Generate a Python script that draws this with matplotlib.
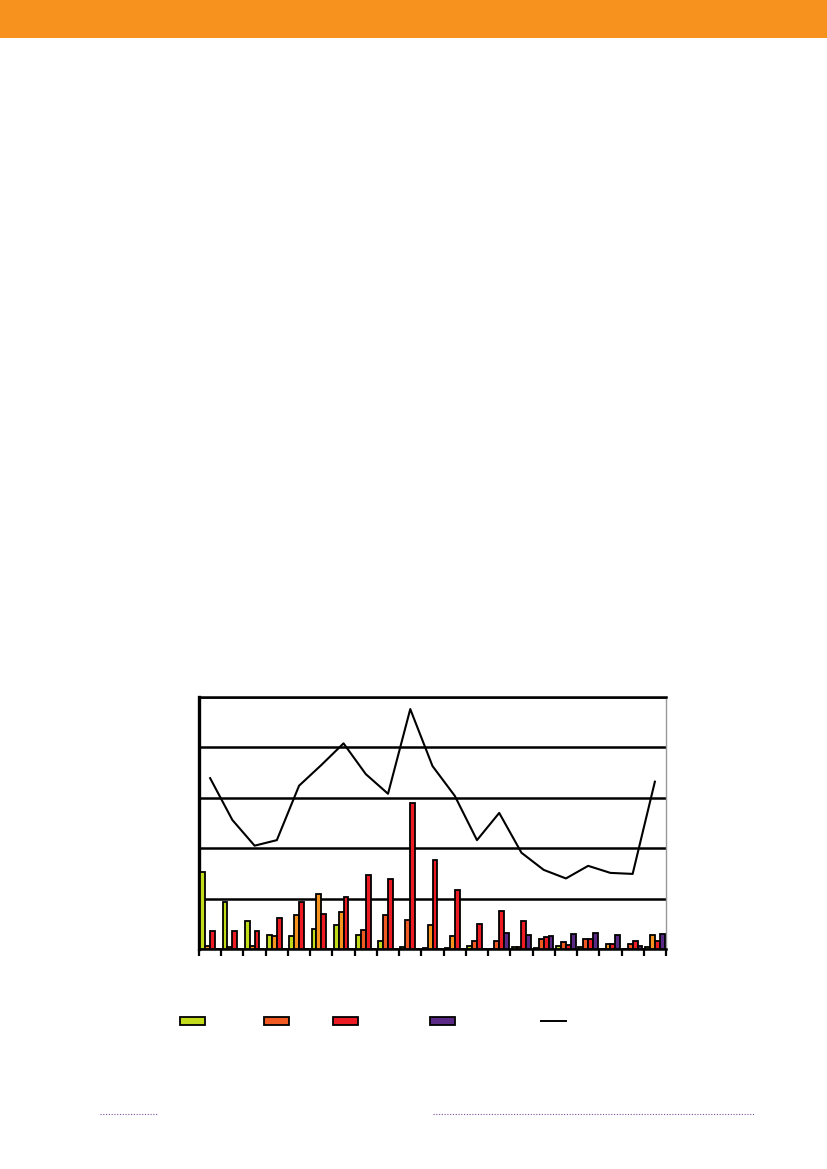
import numpy as np
import matplotlib.pyplot as plt
from matplotlib.patches import Rectangle
from matplotlib.lines import Line2D

# values (one unit = one tenth of a gridline step)
categories = list(range(1, 22))
green_vals = [15.3, 9.4, 5.6, 2.8, 2.6, 4.0, 4.8, 2.8, 1.5, 0.3, 0.2,
              0.2, 0.5, 0.0, 0.3, 0.1, 0.5, 0.4, 0.0, 0.0, 0.3]
orange_vals = [0.6, 0.3, 0.6, 2.5, 6.7, 11.0, 7.4, 3.7, 6.7, 5.8, 4.8,
               2.5, 1.6, 1.5, 0.4, 1.9, 1.3, 2.0, 0.9, 0.9, 2.8]
red_vals = [3.5, 3.5, 3.5, 6.2, 9.4, 7.0, 10.4, 14.7, 13.9, 28.9, 17.6,
            11.8, 5.0, 7.6, 5.6, 2.3, 0.8, 2.0, 0.9, 1.6, 1.6]
purple_vals = [0.0, 0.0, 0.0, 0.0, 0.0, 0.0, 0.0, 0.0, 0.0, 0.0, 0.0,
               0.0, 0.0, 3.2, 2.8, 2.6, 2.9, 3.1, 2.7, 0.6, 3.0]
line_vals = [33.9, 25.6, 20.5, 21.6, 32.4, 36.5, 40.8, 34.7, 30.8, 47.6, 36.3,
             30.4, 21.6, 27.0, 19.1, 15.7, 14.0, 16.5, 15.1, 14.9, 33.2]
# second series is drawn amber in some groups and orange-red in others
orange_is_amber = [1, 1, 1, 1, 1, 1, 1, 0, 0, 0, 1,
                   1, 0, 0, 1, 0, 0, 0, 1, 0, 1]

GREEN = '#c2dc1c'
AMBER = '#f7941d'
ORANGE = '#f15a22'
RED = '#ed1c24'
PURPLE = '#5b2a86'

fig = plt.figure(figsize=(8.27, 11.69), dpi=100)

# orange banner on top
fig.add_artist(Rectangle((0, 1 - 38 / 1169), 1, 38 / 1169,
                         transform=fig.transFigure, color='#f7921f', lw=0))

ax = fig.add_axes([199 / 827, 220 / 1169, 467 / 827, 252 / 1169])

x = np.arange(len(categories)) + 0.5
w = 0.22
series = [green_vals, orange_vals, red_vals, purple_vals]
colors = [GREEN, [AMBER if a else ORANGE for a in orange_is_amber], RED, PURPLE]
for k, (vals, col) in enumerate(zip(series, colors)):
    ax.bar(x + (k - 1.5) * w, vals, width=w, color=col,
           edgecolor='black', linewidth=1.3, zorder=3)

ax.plot(x, line_vals, color='black', linewidth=1.5, zorder=4)

ax.set_xlim(0, len(categories))
ax.set_ylim(0, 50)
ax.set_yticks(np.arange(0, 51, 10))
ax.set_xticks(np.arange(0, len(categories) + 1))
ax.set_yticklabels([])
ax.set_xticklabels([])
ax.tick_params(axis='x', direction='out', length=5, width=1.6, color='black')
ax.tick_params(axis='y', length=0)
ax.grid(axis='y', color='black', linewidth=1.8, zorder=1)
ax.set_axisbelow(True)

ax.spines['left'].set_linewidth(2.4)
ax.spines['bottom'].set_linewidth(1.8)
ax.spines['top'].set_linewidth(1.8)
ax.spines['right'].set_color('#999999')
ax.spines['right'].set_linewidth(1.0)

# legend keys (the labels are blank in the reference)
key_y = 1 - 1025 / 1169
key_h = 8 / 1169
key_w = 25 / 827
for xp, col in [(180, GREEN), (264, ORANGE), (333, RED), (430, PURPLE)]:
    fig.add_artist(Rectangle((xp / 827, key_y), key_w, key_h,
                             transform=fig.transFigure, facecolor=col,
                             edgecolor='black', linewidth=1.3))
fig.add_artist(Line2D([541 / 827, 566 / 827], [key_y + key_h / 2] * 2,
                      transform=fig.transFigure, color='black', linewidth=1.4))

# dotted footer rules
fy = 1 - 1114 / 1169
for x0, x1 in [(100, 158), (433, 755)]:
    fig.add_artist(Line2D([x0 / 827, x1 / 827], [fy, fy], transform=fig.transFigure,
                          color='#7b4fa0', linewidth=0.8, linestyle=(0, (1, 1.5))))

fig.savefig('out.png', dpi=100)
